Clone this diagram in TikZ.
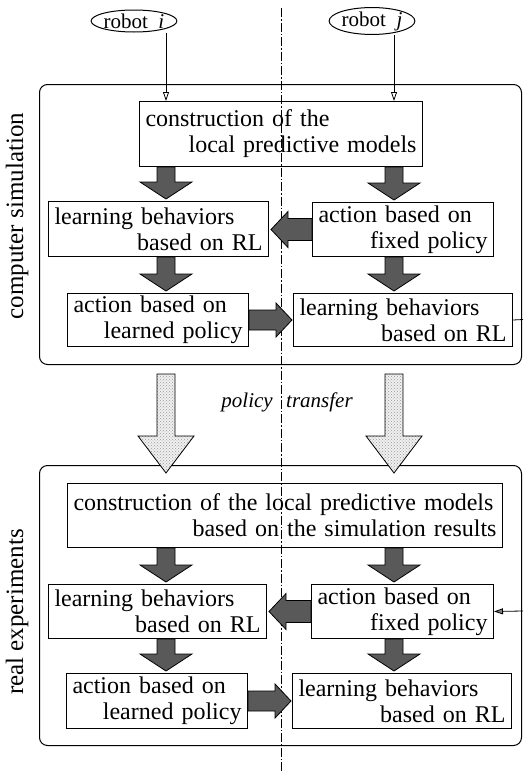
\documentclass[tikz,border=0pt]{standalone}
\usepackage{fontspec}
\setmainfont{Liberation Serif}
\usetikzlibrary{arrows.meta,calc,shapes.geometric,patterns}
\newcommand\arrdown[7]{\draw[#1] let \p0=#2, \p1=#3, \p2=#4 in (\x0-#5,\y1) -- (\x0-#5,\y2+#7) -- (\x0-#6,\y2+#7) -- (\x0,\y2) -- (\x0+#6,\y2+#7) -- (\x0+#5,\y2+#7) -- (\x0+#5,\y1) -- cycle;}
\newcommand\arrleft[7]{\draw[#1] let \p0=#2, \p1=#3, \p2=#4 in (\x1,\y0+#5) -- (\x2+#7,\y0+#5) -- (\x2+#7,\y0+#6) -- (\x2,\y0) -- (\x2+#7,\y0-#6) -- (\x2+#7,\y0-#5) -- (\x1,\y0-#5) -- cycle;}
\newcommand\arrright[7]{\draw[#1] let \p0=#2, \p1=#3, \p2=#4 in (\x1,\y0+#5) -- (\x2-#7,\y0+#5) -- (\x2-#7,\y0+#6) -- (\x2,\y0) -- (\x2-#7,\y0-#6) -- (\x2-#7,\y0-#5) -- (\x1,\y0-#5) -- cycle;}
\newcommand\bx[8]{\node[box,minimum width=#4pt,minimum height=#5pt,text width=#6pt] (#1) at (#2,#3) {#7\\\hspace*{\fill}#8};}
\begin{document}
\begin{tikzpicture}[x=1pt,y=-1pt,
  box/.style={draw,line width=1pt,inner xsep=6pt,inner ysep=0pt,anchor=north west,align=left,font=\fontsize{24}{26}\selectfont},
  frame/.style={draw,line width=1pt,rounded corners=8pt,anchor=north west,inner sep=0pt},
  robot/.style={draw,ellipse,line width=1pt,inner sep=0pt,minimum height=22pt,font=\fontsize{21}{22}\selectfont},
  dark/.style={draw=black,line width=0.8pt,fill=black!65,line join=miter},
  light/.style={draw=black,line width=0.8pt,preaction={fill=gray!12},pattern=crosshatch dots,pattern color=gray!80,line join=miter},
  thinarr/.style={line width=0.8pt,-{Triangle[open,length=9pt,width=6pt]}},
  sidelabel/.style={rotate=90,font=\fontsize{25}{26}\selectfont},
  itlabel/.style={font=\fontsize{21}{24}\itshape},
  dashdot/.style={line width=0.7pt,dash pattern=on 9pt off 2pt on 1.5pt off 2pt}
]
\useasboundingbox (0,0) rectangle (523,771);

\coordinate (colL) at (166,0);
\coordinate (colR) at (394,0);

% dash-dot divider
\coordinate (dtop) at (281,8);
\coordinate (dbot) at (281,771);
\draw[dashdot] (dtop) -- (dbot);

% frames
\node[frame,minimum width=482pt,minimum height=280pt] (sim) at (39,84) {};
\node[frame,minimum width=482pt,minimum height=280pt] (real) at (39,465) {};

\node[sidelabel] (lsim) at (17,216) {computer simulation};
\node[sidelabel] (lreal) at (17,612) {real experiments};

% robots
\node[robot,minimum width=65pt] (ri) at (134,21) {robot\enspace\textit{i}};
\node[robot,minimum width=63pt] (rj) at (372,21) {robot\enspace\textit{j}};

% simulation boxes
\bx{T1}{139}{101}{283}{65}{271}{construction of the}{local predictive models}
\bx{L2}{48}{201}{220}{55}{208}{learning behaviors}{based on RL}
\bx{R2}{312}{202}{181}{54}{169}{action based on}{fixed policy}
\bx{L3}{67}{293}{181}{53}{169}{action based on}{learned policy}
\bx{R3}{293}{293}{219}{53}{207}{learning behaviors}{based on RL}

% real boxes
\bx{B1}{67}{483}{435}{64}{423}{construction of the local predictive models}{based on the simulation results}
\bx{BL2}{48}{584}{218}{54}{206}{learning behaviors}{based on RL}
\bx{BR2}{311}{584}{182}{54}{170}{action based on}{fixed policy}
\bx{BL3}{66}{673}{181}{55}{169}{action based on}{learned policy}
\bx{BR3}{292}{673}{219}{55}{207}{learning behaviors}{based on RL}

% thin arrows from robots
\draw[thinarr] (ri.south -| colL) -- (T1.north -| colL);
\draw[thinarr] (rj.south -| colR) -- (T1.north -| colR);

% simulation block arrows
\arrdown{dark}{(colL)}{(T1.south)}{($(L2.north)+(0,-2)$)}{9pt}{26pt}{17pt}
\arrdown{dark}{(colR)}{(T1.south)}{($(R2.north)+(0,-2)$)}{9pt}{26pt}{17pt}
\arrleft{dark}{(R2.west)}{(R2.west)}{($(L2.east)+(2,0)$)}{11pt}{18pt}{17pt}
\arrdown{dark}{(colL)}{(L2.south)}{($(L3.north)+(0,-2)$)}{9pt}{26pt}{17pt}
\arrdown{dark}{(colR)}{(R2.south)}{($(R3.north)+(0,-2)$)}{9pt}{26pt}{17pt}
\arrright{dark}{(L3.east)}{(L3.east)}{($(R3.west)+(-1,0)$)}{10pt}{17pt}{16pt}

% right edge stubs
\coordinate (edgeT) at (523,319.5);
\draw[line width=0.8pt] (R3.east) -- (edgeT);
\coordinate (edgeB) at (523,611);
\draw[line width=0.8pt,-{Triangle[length=9pt,width=6pt,fill=gray]}] (edgeB) -- (BR2.east);

% policy transfer
\arrdown{light}{(colL)}{($(sim.south)+(0,9)$)}{($(real.north)+(0,8)$)}{9pt}{28pt}{37pt}
\arrdown{light}{(colR)}{($(sim.south)+(0,9)$)}{($(real.north)+(0,8)$)}{9pt}{28pt}{37pt}
\node[itlabel,anchor=east,inner sep=0pt] (pol) at (273,402) {policy};
\node[itlabel,anchor=west,inner sep=0pt] (tra) at (286,402) {transfer};

% real block arrows
\arrdown{dark}{(colL)}{(B1.south)}{($(BL2.north)+(0,-2)$)}{9pt}{26pt}{17pt}
\arrdown{dark}{(colR)}{(B1.south)}{($(BR2.north)+(0,-2)$)}{9pt}{26pt}{17pt}
\arrleft{dark}{(BR2.west)}{(BR2.west)}{($(BL2.east)+(2,0)$)}{11pt}{18pt}{17pt}
\arrdown{dark}{(colL)}{(BL2.south)}{($(BL3.north)+(0,-2)$)}{9pt}{26pt}{17pt}
\arrdown{dark}{(colR)}{(BR2.south)}{($(BR3.north)+(0,-2)$)}{9pt}{26pt}{17pt}
\arrright{dark}{(BL3.east)}{(BL3.east)}{($(BR3.west)+(-1,0)$)}{10pt}{17pt}{16pt}
\end{tikzpicture}
\end{document}
